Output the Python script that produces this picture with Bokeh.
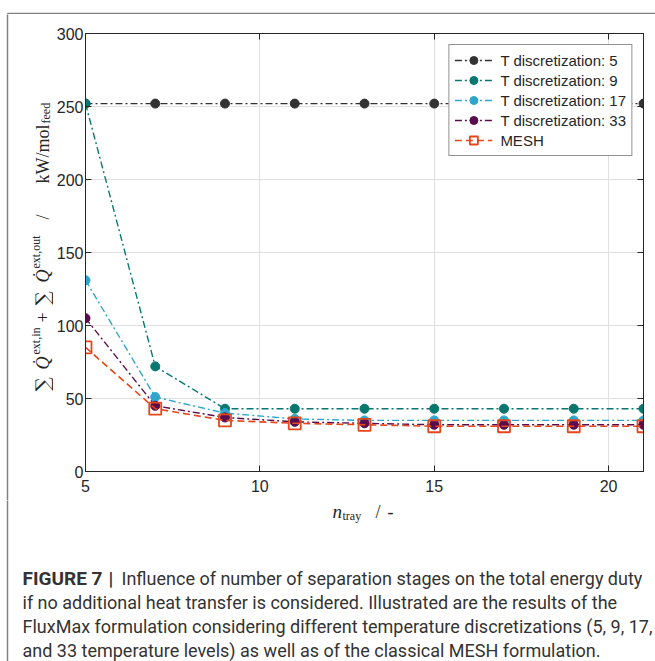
from bokeh.plotting import figure
from bokeh.layouts import column, row
from bokeh.models import (Legend, LegendItem, LinearAxis, FixedTicker, Range1d)
from bokeh.core.properties import value
from bokeh.embed import file_html
from bokeh.resources import INLINE
import math

# ---------------- data ----------------
n_tray = [5, 7, 9, 11, 13, 15, 17, 19, 21]
t_disc_5 = [252, 252, 252, 252, 252, 252, 252, 252, 252]
t_disc_9 = [252, 72, 43, 43, 43, 43, 43, 43, 43]
t_disc_17 = [131, 51, 40, 36, 35, 35, 35, 35, 35]
t_disc_33 = [105, 45, 37, 34, 33, 32, 32, 32, 32]
mesh = [85, 43, 35, 33, 32, 31, 31, 31, 31]

x_ticks = [5, 10, 15, 20]
y_ticks = [0, 50, 100, 150, 200, 250, 300]
X0, X1, Y0, Y1 = 5, 21, 0, 300

series_names = ["T discretization: 5", "T discretization: 9",
                "T discretization: 17", "T discretization: 33", "MESH"]
colors = ["#333333", "#08776f", "#2ea6cc", "#5a0c4c", "#e4471b"]

caption_bold = ["FIGURE 7", "|"]
caption_lines = [
    "Influence of number of separation stages on the total energy duty",
    "if no additional heat transfer is considered. Illustrated are the results of the",
    "FluxMax formulation considering different temperature discretizations (5, 9, 17,",
    "and 33 temperature levels) as well as of the classical MESH formulation.",
]

# ---------------- layout (page px) ----------------
W, H = 655, 661
TOP_H = 14          # strip holding the top border line
LEFT_W = 53         # strip holding the y-axis label
MAIN_BOTTOM = 500   # page y where the bottom strip starts
FL, FR, FT, FB = 85, 643, 33, 471   # plot frame edges in page coords
BORDER_X, BORDER_Y = 7, 13
BORDER_COLOR = "#808080"
TEXT_COLOR = "#262626"
SERIF = "Liberation Serif"


def strip(width, x_left, y_top, y_bottom):
    """A figure without axes whose data coordinates equal page pixels (y negated)."""
    f = figure(width=width, height=y_bottom - y_top, output_backend="svg",
               toolbar_location=None, title=None,
               x_range=Range1d(x_left, x_left + width),
               y_range=Range1d(-y_bottom, -y_top),
               min_border=0, x_axis_type=None, y_axis_type=None)
    f.grid.visible = False
    f.outline_line_color = None
    f.background_fill_color = "white"
    f.border_fill_color = "white"
    return f


# ---------------- top strip (border line) ----------------
top = strip(W, 0, 0, TOP_H)
top.segment(x0=[BORDER_X, BORDER_X], y0=[-BORDER_Y, -BORDER_Y],
            x1=[W + 5, BORDER_X], y1=[-BORDER_Y, -TOP_H - 2],
            line_color=BORDER_COLOR, line_width=1.5)

# ---------------- left strip (y label) ----------------
left = strip(LEFT_W, 0, TOP_H, MAIN_BOTTOM)
left.segment(x0=[BORDER_X], y0=[-TOP_H + 2], x1=[BORDER_X], y1=[-MAIN_BOTTOM - 2],
             line_color=BORDER_COLOR, line_width=1.5)

BASE = 42
y_pieces = [  # text, baseline x, start y (page), size, style, font
    ("\u2211", BASE, 391, 20, "normal", "DejaVu Serif"),
    ("Q\u0307", BASE, 369, 18, "italic", SERIF),
    ("ext,in", BASE - 7, 354, 12, "normal", SERIF),
    ("+", BASE, 322, 18, "normal", SERIF),
    ("\u2211", BASE, 305, 20, "normal", "DejaVu Serif"),
    ("Q\u0307", BASE, 282, 18, "italic", SERIF),
    ("ext,out", BASE - 7, 268, 12, "normal", SERIF),
    ("/", BASE, 219, 18, "normal", SERIF),
    ("kW/mol", BASE, 183, 18, "normal", SERIF),
    ("feed", BASE + 3, 123, 12, "normal", SERIF),
]
for txt, bx, by, sz, st, fnt in y_pieces:
    left.text(x=[bx], y=[-by], text=[txt], angle=math.pi / 2,
              text_font=value(fnt), text_font_size=value(f"{sz}px"),
              text_font_style=value(st), text_color=TEXT_COLOR,
              text_align="left", text_baseline="alphabetic")

# ---------------- main chart ----------------
MAIN_W = W - LEFT_W
MAIN_H = MAIN_BOTTOM - TOP_H
p = figure(width=MAIN_W, height=MAIN_H, output_backend="svg", toolbar_location=None,
           title=None,
           x_range=Range1d(X0, X1), y_range=Range1d(Y0, Y1),
           min_border_left=FL - LEFT_W, min_border_right=W - FR,
           min_border_top=FT - TOP_H, min_border_bottom=MAIN_BOTTOM - FB)
p.background_fill_color = "white"
p.border_fill_color = "white"
p.outline_line_color = TEXT_COLOR
p.outline_line_width = 1

for ax in (p.xaxis[0], p.yaxis[0]):
    ax.axis_line_color = TEXT_COLOR
    ax.major_tick_line_color = TEXT_COLOR
    ax.major_tick_in = 6
    ax.major_tick_out = 0
    ax.minor_tick_line_color = None
    ax.major_label_text_font = "Liberation Sans"
    ax.major_label_text_font_size = "16px"
    ax.major_label_text_color = TEXT_COLOR
p.xaxis[0].ticker = FixedTicker(ticks=x_ticks)
p.yaxis[0].ticker = FixedTicker(ticks=y_ticks)
p.xaxis[0].major_label_standoff = 8
p.yaxis[0].major_label_standoff = 2

top_ax = LinearAxis(ticker=FixedTicker(ticks=x_ticks), major_label_text_alpha=0,
                    major_label_text_font_size="6px", major_label_standoff=0,
                    major_tick_in=6, major_tick_out=0, minor_tick_line_color=None,
                    axis_line_color=TEXT_COLOR, major_tick_line_color=TEXT_COLOR)
right_ax = LinearAxis(ticker=FixedTicker(ticks=y_ticks), major_label_text_alpha=0,
                      major_label_text_font_size="6px", major_label_standoff=0,
                      major_tick_in=6, major_tick_out=0, minor_tick_line_color=None,
                      axis_line_color=TEXT_COLOR, major_tick_line_color=TEXT_COLOR)
p.add_layout(top_ax, "above")
p.add_layout(right_ax, "right")

p.xgrid.ticker = FixedTicker(ticks=x_ticks)
p.ygrid.ticker = FixedTicker(ticks=y_ticks)
p.grid.grid_line_color = "#e0e0e0"
p.grid.grid_line_width = 1

items = []
ys = [t_disc_5, t_disc_9, t_disc_17, t_disc_33]
for name, yv, c in zip(series_names[:4], ys, colors[:4]):
    r1 = p.line(n_tray, yv, line_color=c, line_width=1.4, line_dash="7 3 2 3")
    r2 = p.scatter(n_tray, yv, marker="circle", size=9, fill_color=c, line_color=c)
    items.append(LegendItem(label=name, renderers=[r1, r2]))

rm1 = p.line(n_tray, mesh, line_color=colors[4], line_width=1.6, line_dash="7 4")
rm2 = p.scatter(n_tray, mesh, marker="square", size=12, fill_color=None,
                line_color=colors[4], line_width=1.8)
items.append(LegendItem(label=series_names[4], renderers=[rm1, rm2]))

legend = Legend(items=items, location="top_right", margin=11,
                glyph_width=38, glyph_height=20, label_height=20,
                label_standoff=8, padding=5, spacing=0,
                label_text_font="Liberation Sans", label_text_font_size="15px",
                label_text_color=TEXT_COLOR,
                border_line_color=TEXT_COLOR, border_line_width=1,
                background_fill_alpha=1)
p.add_layout(legend)

# ---------------- bottom strip (x label + caption) ----------------
bottom = strip(W, 0, MAIN_BOTTOM, H)
bottom.segment(x0=[BORDER_X], y0=[-MAIN_BOTTOM + 2], x1=[BORDER_X], y1=[-H - 2],
               line_color=BORDER_COLOR, line_width=1.5)

x_pieces = [  # text, x, baseline y (page), size, style
    ("n", 332, 511, 19, "italic"),
    ("tray", 342, 515, 12, "normal"),
    ("/", 375, 511, 18, "normal"),
    ("-", 387, 511, 18, "normal"),
]
for txt, bx, by, sz, st in x_pieces:
    bottom.text(x=[bx], y=[-by], text=[txt],
                text_font=value(SERIF), text_font_size=value(f"{sz}px"),
                text_font_style=value(st), text_color=TEXT_COLOR,
                text_align="left", text_baseline="alphabetic")

CAP_FONT = "Roboto"
CAP_SIZE = "18px"
CAP_X = 22
cap_y = [578, 602, 626, 650]
bottom.text(x=[CAP_X, 108], y=[-cap_y[0], -cap_y[0]], text=caption_bold,
            text_font=value(CAP_FONT), text_font_size=value("19px"),
            text_font_style=value("bold"), text_color="#333333",
            text_align="left", text_baseline="alphabetic")
cap_x = [121] + [CAP_X] * 3
bottom.text(x=cap_x, y=[-v for v in cap_y], text=caption_lines,
            text_font=value(CAP_FONT), text_font_size=value(CAP_SIZE),
            text_color="#333333", text_align="left", text_baseline="alphabetic")

layout = column(top, row(column(left), p), bottom)
open("out.html", "w").write(file_html(layout, INLINE))
